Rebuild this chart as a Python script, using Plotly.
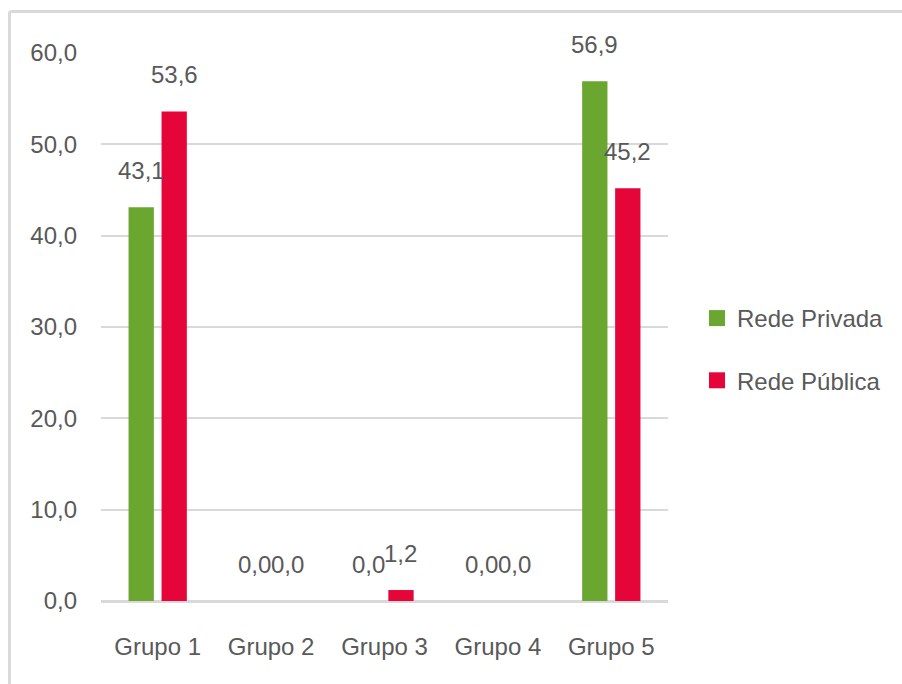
import plotly.graph_objects as go

# Data
grupos = ["Grupo 1", "Grupo 2", "Grupo 3", "Grupo 4", "Grupo 5"]
rede_privada = [43.1, 0.0, 0.0, 0.0, 56.9]
rede_publica = [53.6, 0.0, 1.2, 0.0, 45.2]
y_ticks = [0, 10, 20, 30, 40, 50, 60]

# Canvas and plot-area geometry (pixels)
W, H = 902, 684
ML, MR, MT, MB = 101, 234, 53, 83
PW, PH = W - ML - MR, H - MT - MB
BARGAP = 0.418
BARGROUPGAP = 0.233

GREEN = "#6aa630"
RED = "#e60539"
TXT = "#595959"
GRID = "#d9d9d9"
FONT = "Liberation Sans Narrow, Liberation Sans, Arial, sans-serif"


def px_x(p):
    return (p - ML) / PW


def px_y(p):
    return 1 - (p - MT) / PH


fig = go.Figure()
series = (("Rede Privada", rede_privada, GREEN, "a"),
          ("Rede Pública", rede_publica, RED, "b"))
for name, vals, color, grp in series:
    fig.add_trace(go.Bar(name=name, x=grupos, y=vals,
                         marker=dict(color=color, line=dict(width=0)),
                         legendgroup=grp, showlegend=False))
# Legend entries with larger square swatches
for name, vals, color, grp in series:
    fig.add_trace(go.Scatter(name=name, x=[None], y=[None], mode="markers",
                             marker=dict(symbol="square", size=16, color=color),
                             legendgroup=grp, showlegend=True,
                             hoverinfo="skip"))

# Value labels above each bar
cat_w = PW / len(grupos)
half_slot = cat_w * (1 - BARGAP) / 4
annotations = []
for vals, shift in ((rede_privada, -half_slot), (rede_publica, half_slot)):
    for g, v in zip(grupos, vals):
        annotations.append(dict(
            x=g, y=v, xref="x", yref="y",
            text=f"{v:.1f}".replace(".", ","),
            showarrow=False, xanchor="center", yanchor="bottom",
            xshift=shift, yshift=21,
            font=dict(family=FONT, size=24, color=TXT),
        ))

# Light frame on the top and left edges
shapes = [
    dict(type="line", xref="paper", yref="paper",
         x0=px_x(9.5), x1=px_x(W + 5), y0=px_y(11.5), y1=px_y(11.5),
         line=dict(color=GRID, width=3), layer="below"),
    dict(type="line", xref="paper", yref="paper",
         x0=px_x(9.5), x1=px_x(9.5), y0=px_y(11.5), y1=px_y(H + 5),
         line=dict(color=GRID, width=3), layer="below"),
]

fig.update_layout(
    width=W, height=H,
    margin=dict(l=ML, r=MR, t=MT, b=MB, pad=0),
    paper_bgcolor="white", plot_bgcolor="white",
    barmode="group", bargap=BARGAP, bargroupgap=BARGROUPGAP,
    separators=",.",
    font=dict(family=FONT, size=24, color=TXT),
    showlegend=True,
    legend=dict(x=px_x(697), y=px_y(296), xanchor="left", yanchor="top",
                font=dict(family=FONT, size=24, color=TXT),
                traceorder="grouped", tracegroupgap=28,
                bgcolor="rgba(0,0,0,0)", itemwidth=30, itemsizing="trace"),
    annotations=annotations,
    shapes=shapes,
    xaxis=dict(showgrid=False, showline=False, zeroline=False, ticks="",
               ticklabelstandoff=29,
               tickfont=dict(family=FONT, size=24, color=TXT)),
    yaxis=dict(range=[0, 60], tickvals=y_ticks, tickformat=".1f",
               showgrid=True, gridcolor=GRID, gridwidth=2,
               zeroline=True, zerolinecolor=GRID, zerolinewidth=3,
               showline=False, ticks="", ticklabelstandoff=23,
               tickfont=dict(family=FONT, size=24, color=TXT)),
)

fig.write_html("out.html")
